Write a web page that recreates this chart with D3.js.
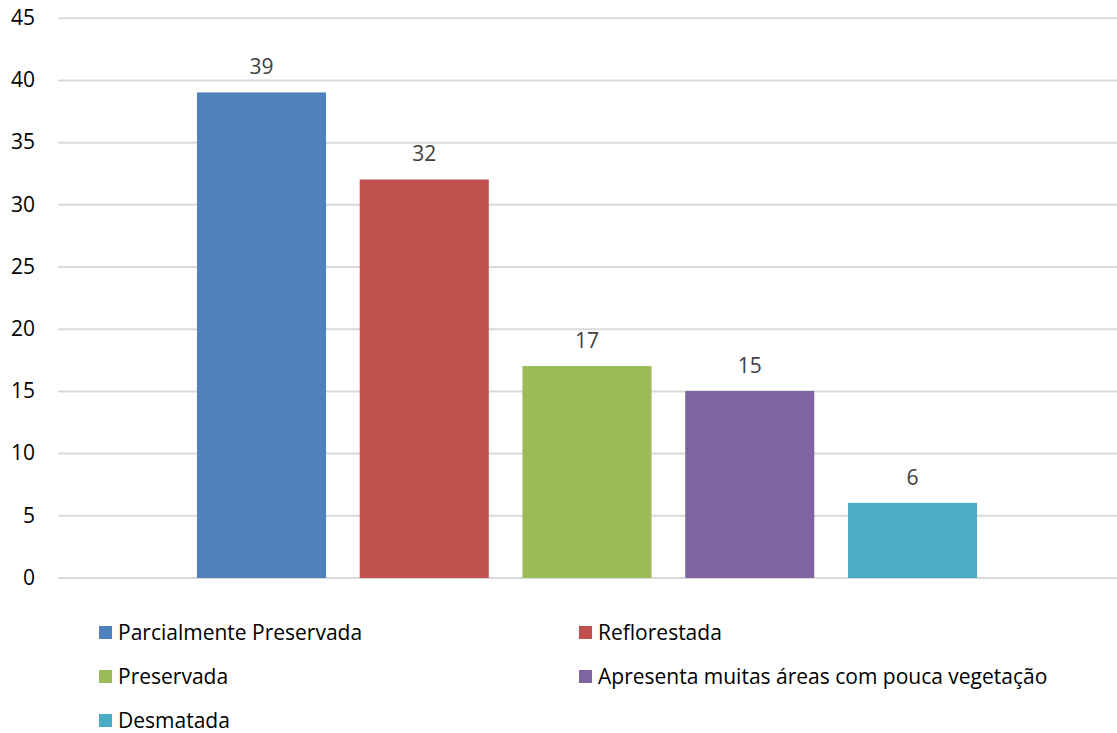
<!DOCTYPE html>
<html>
<head>
<meta charset="utf-8">
<script src="https://cdn.jsdelivr.net/npm/d3@7"></script>
<style>
  html, body { margin: 0; padding: 0; background: #fff; }
  svg { display: block; }
  text { font-family: "Open Sans", sans-serif; }
</style>
</head>
<body>
<svg id="chart" width="1117" height="733"></svg>
<script>
// Condition of the vegetation, one bar per answer
const series = [
  "Parcialmente Preservada",
  "Reflorestada",
  "Preservada",
  "Apresenta muitas áreas com pouca vegetação",
  "Desmatada"
];
const values = [39, 32, 17, 15, 6];
const colors = ["#4f81bd", "#c0504d", "#9bbb59", "#8064a2", "#4bacc6"];
const yTicks = [0, 5, 10, 15, 20, 25, 30, 35, 40, 45];

const svg = d3.select("#chart");

const plotLeft = 58, plotRight = 1117;
const y = d3.scaleLinear().domain([0, 45]).range([577.5, 17.8]);

const x = d3.scaleBand()
  .domain(series)
  .range([180.1, 993.9])
  .paddingInner(0.207)
  .paddingOuter(0.1035);

const color = d3.scaleOrdinal().domain(series).range(colors);

// Horizontal gridlines and value axis labels
const yAxis = d3.axisLeft(y).tickValues(yTicks).tickSize(-(plotRight - plotLeft)).tickPadding(23);
const gy = svg.append("g").attr("transform", `translate(${plotLeft},0)`).call(yAxis);
gy.select(".domain").remove();
gy.selectAll(".tick line").attr("stroke", "#d9d9d9").attr("stroke-width", 2);
gy.selectAll(".tick text")
  .attr("fill", "#000")
  .style("font-size", "21px");

// Bars
const data = series.map((s, i) => ({ s, v: values[i] }));
svg.append("g").selectAll("rect").data(data).join("rect")
  .attr("x", d => x(d.s))
  .attr("width", x.bandwidth())
  .attr("y", d => y(d.v))
  .attr("height", d => y(0) - y(d.v) + 0.5)
  .attr("fill", d => color(d.s));

// Value labels above the bars
svg.append("g").selectAll("text").data(data).join("text")
  .attr("x", d => x(d.s) + x.bandwidth() / 2)
  .attr("y", d => y(d.v) - 18)
  .attr("text-anchor", "middle")
  .attr("fill", "#404040")
  .style("font-size", "21px")
  .text(d => d.v);

// Legend, two columns
const legendCols = [99, 579];
const legendRows = [633, 677, 721];
const lg = svg.append("g").selectAll("g").data(data).join("g")
  .attr("transform", (d, i) => `translate(${legendCols[i % 2]},${legendRows[Math.floor(i / 2)]})`);
lg.append("rect")
  .attr("x", 0).attr("y", -7).attr("width", 13).attr("height", 13)
  .attr("fill", d => color(d.s));
lg.append("text")
  .attr("x", 19).attr("y", 0)
  .attr("dy", "0.35em")
  .attr("fill", "#000")
  .style("font-size", "21px")
  .text(d => d.s);
</script>
</body>
</html>
